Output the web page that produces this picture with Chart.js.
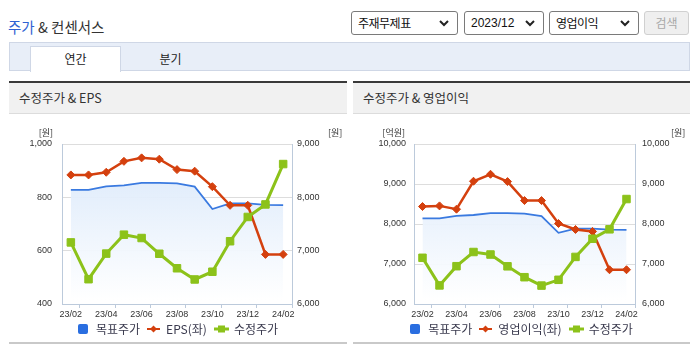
<!DOCTYPE html>
<html>
<head>
<meta charset="utf-8">
<script src="https://cdn.jsdelivr.net/npm/chart.js@4.4.1/dist/chart.umd.min.js"></script>
<style>
    body { margin: 0; width: 695px; height: 349px; background: #fff; font-family: 'Noto Sans CJK KR', sans-serif; position: relative; overflow: hidden; color: #333; }
    .abs { position: absolute; }
    .title { left: 8px; top: 17px; font-size: 14.5px; line-height: 20px; color: #333; }
    .title .blue { color: #2f62d2; }
    .sel { top: 11px; height: 22px; border: 1px solid #7a7a7a; border-radius: 3px; font-size: 12px; line-height: 22px; padding-left: 6px; box-sizing: content-box; color: #111; }
    .sel svg { position: absolute; top: 8px; }
    .btn { left: 644px; top: 11px; width: 43px; height: 22px; border: 1px solid #d0d0d0; border-radius: 3px; background: #efefef; color: #a8a8a8; font-size: 12px; line-height: 22px; text-align: center; }
    .tabbar { left: 9px; top: 42px; width: 679px; height: 27px; background: #e8eef8; border: 1px solid #cfd7e6; }
    .tab { left: 30px; top: 46px; width: 89px; height: 25px; background: #fff; border: 1px solid #cfd7e6; border-bottom: none; font-size: 12px; line-height: 24px; text-align: center; color: #222; }
    .tab2 { left: 148px; top: 47px; width: 45px; font-size: 12px; line-height: 24px; text-align: center; color: #222; }
    .panel-head { top: 81px; height: 30px; border-top: 2px solid #3a3a3a; border-bottom: 1px solid #dcdcdc; background: #f1f1f1; font-size: 12.5px; line-height: 30px; padding-left: 10px; box-sizing: content-box; color: #333; }
    .panel-foot { top: 342px; height: 2px; background: #c9c9c9; }
    .legend { top: 321px; height: 16px; font-size: 12px; line-height: 16px; color: #3a3a4e; white-space: nowrap; display: flex; align-items: center; justify-content: center; }
    .legend span { display: inline-flex; align-items: center; }
    .lg-box { width: 10px; height: 10px; background: #2a6ee0; border-radius: 2px; margin-right: 8px; }
    .lg-item { margin-right: 7px; }
    canvas { position: absolute; }
</style>
</head>
<body>
<div class="abs title"><span class="blue">주가</span> &amp; 컨센서스</div>

<div class="abs sel" style="left:351px;width:99px;letter-spacing:-0.5px;">주재무제표<svg style="left:87px" width="10" height="7"><polyline points="1,1 5,5 9,1" fill="none" stroke="#222" stroke-width="2"/></svg></div>
<div class="abs sel" style="left:464px;width:72px;font-family:'Liberation Sans',sans-serif;">2023/12<svg style="left:60px" width="10" height="7"><polyline points="1,1 5,5 9,1" fill="none" stroke="#222" stroke-width="2"/></svg></div>
<div class="abs sel" style="left:549px;width:82px;letter-spacing:-0.5px;">영업이익<svg style="left:70px" width="10" height="7"><polyline points="1,1 5,5 9,1" fill="none" stroke="#222" stroke-width="2"/></svg></div>
<div class="abs btn">검색</div>

<div class="abs tabbar"></div>
<div class="abs tab">연간</div>
<div class="abs tab2">분기</div>

<div class="abs panel-head" style="left:9px;width:328px;">수정주가 &amp; EPS</div>
<div class="abs panel-head" style="left:353px;width:327px;">수정주가 &amp; 영업이익</div>

<canvas id="eps-chart" width="338" height="208" style="left:9px;top:115px;"></canvas>
<canvas id="op-chart" width="337" height="208" style="left:353px;top:115px;"></canvas>

<div class="abs legend" style="left:9px;width:338px;">
    <span class="lg-item"><span class="lg-box"></span>목표주가</span>
    <span class="lg-item"><svg width="13" height="10" style="margin-right:6px"><line x1="0" y1="5" x2="13" y2="5" stroke="#d4400e" stroke-width="2"/><polygon points="6.5,1.5 10,5 6.5,8.5 3,5" fill="#d4400e"/></svg>EPS(좌)</span>
    <span><svg width="15" height="10" style="margin-right:5px"><line x1="0" y1="5" x2="15" y2="5" stroke="#8cc21a" stroke-width="3"/><rect x="4" y="1.5" width="7" height="7" fill="#8cc21a"/></svg>수정주가</span>
</div>
<div class="abs legend" style="left:353px;width:337px;">
    <span class="lg-item"><span class="lg-box"></span>목표주가</span>
    <span class="lg-item"><svg width="13" height="10" style="margin-right:6px"><line x1="0" y1="5" x2="13" y2="5" stroke="#d4400e" stroke-width="2"/><polygon points="6.5,1.5 10,5 6.5,8.5 3,5" fill="#d4400e"/></svg>영업이익(좌)</span>
    <span><svg width="15" height="10" style="margin-right:5px"><line x1="0" y1="5" x2="15" y2="5" stroke="#8cc21a" stroke-width="3"/><rect x="4" y="1.5" width="7" height="7" fill="#8cc21a"/></svg>수정주가</span>
</div>

<div class="abs panel-foot" style="left:9px;width:338px;"></div>
<div class="abs panel-foot" style="left:353px;width:337px;"></div>

<script>
const months = ['23/02', '23/03', '23/04', '23/05', '23/06', '23/07', '23/08', '23/09', '23/10', '23/11', '23/12', '24/01', '24/02']
const targetPrice = [8140, 8140, 8205, 8225, 8270, 8270, 8260, 8200, 7780, 7885, 7885, 7860, 7853]
const eps = [884, 884, 894, 935, 948, 943, 904, 898, 840, 770, 770, 586, 586]
const opIncome = [8437, 8453, 8370, 9069, 9243, 9060, 8586, 8586, 8012, 7863, 7813, 6857, 6857]
const adjPrice = [7155, 6465, 6945, 7300, 7237, 6942, 6670, 6460, 6605, 7177, 7632, 7867, 8624]

const epsTicks = [400, 600, 800, 1000]
const epsPriceTicks = [6000, 7000, 8000, 9000]
const opTicks = [6000, 7000, 8000, 9000, 10000]
const opPriceTicks = [6000, 7000, 8000, 9000, 10000]

const axisColor = '#bccadb'
const gridColor = '#dddddd'
const tickFont = { family: "'Liberation Sans Narrow', 'Liberation Sans', sans-serif", size: 9 }

const unitPlugin = {
    id: 'units',
    afterDraw(chart, args, opts) {
        const { ctx, chartArea } = chart
        ctx.save()
        ctx.font = "9px 'Noto Sans CJK KR', sans-serif"
        ctx.fillStyle = '#333'
        ctx.textBaseline = 'middle'
        ctx.textAlign = 'right'
        ctx.fillText(opts.left, chartArea.left - 9, chartArea.top - 11)
        ctx.textAlign = 'left'
        ctx.fillText(opts.right, chartArea.right + 36, chartArea.top - 11)
        ctx.restore()
    }
}

function fillGradient(context) {
    const { ctx, chartArea } = context.chart
    if (!chartArea) return 'rgba(220,234,250,0.8)'
    const g = ctx.createLinearGradient(0, chartArea.top, 0, chartArea.bottom - 4)
    g.addColorStop(0, 'rgba(214,230,250,0.95)')
    g.addColorStop(1, 'rgba(255,255,255,0.95)')
    return g
}

function makeChart(id, leftData, leftName, leftTicks, rightTicks, leftWidth, rightWidth, leftPad, rightPad, leftUnit) {
    const ctx = document.getElementById(id).getContext('2d')
    return new Chart(ctx, {
        type: 'line',
        data: {
            labels: months,
            datasets: [{
                label: '목표주가',
                data: targetPrice,
                yAxisID: 'y1',
                borderColor: '#3a7ae0',
                borderWidth: 1.8,
                pointRadius: 0,
                fill: 'start',
                backgroundColor: fillGradient,
                order: 3
            }, {
                label: leftName,
                data: leftData,
                yAxisID: 'y',
                borderColor: '#d4400e',
                backgroundColor: '#d4400e',
                borderWidth: 2.5,
                pointStyle: 'rectRot',
                pointRadius: 4,
                pointBorderWidth: 1,
                order: 2
            }, {
                label: '수정주가',
                data: adjPrice,
                yAxisID: 'y1',
                borderColor: '#8cc21a',
                backgroundColor: '#8cc21a',
                borderWidth: 3,
                pointStyle: 'rect',
                pointRadius: 5.3,
                pointBorderWidth: 1,
                order: 1
            }]
        },
        options: {
            responsive: false,
            animation: false,
            layout: { padding: { top: 29, left: 0, right: 0, bottom: 0 } },
            plugins: {
                legend: { display: false },
                tooltip: { enabled: false },
                units: { left: leftUnit, right: '[원]' }
            },
            scales: {
                x: {
                    offset: true,
                    grid: {
                        offset: true,
                        drawOnChartArea: false,
                        tickLength: 4,
                        color: c => (c.index === undefined || c.index % 2 === 1) ? axisColor : 'rgba(0,0,0,0)'
                    },
                    border: { color: axisColor },
                    ticks: {
                        autoSkip: false,
                        maxRotation: 0,
                        padding: 1,
                        color: '#333',
                        font: tickFont,
                        callback: (v, i) => i % 2 === 0 ? months[i] : ''
                    },
                    afterFit: s => { s.height = 19 }
                },
                y: {
                    position: 'left',
                    min: leftTicks[0],
                    max: leftTicks[leftTicks.length - 1],
                    afterBuildTicks: s => { s.ticks = leftTicks.map(v => ({ value: v })) },
                    grid: { color: gridColor, drawTicks: false },
                    border: { color: axisColor },
                    ticks: { padding: leftPad, color: '#333', font: tickFont, callback: v => v.toLocaleString('en-US') },
                    afterFit: s => { s.width = leftWidth }
                },
                y1: {
                    position: 'right',
                    min: rightTicks[0],
                    max: rightTicks[rightTicks.length - 1],
                    afterBuildTicks: s => { s.ticks = rightTicks.map(v => ({ value: v })) },
                    grid: { drawOnChartArea: false, drawTicks: false },
                    border: { color: axisColor },
                    ticks: { padding: rightPad, color: '#333', font: tickFont, callback: v => v.toLocaleString('en-US') },
                    afterFit: s => { s.width = rightWidth }
                }
            }
        },
        plugins: [unitPlugin]
    })
}

makeChart('eps-chart', eps, 'EPS(좌)', epsTicks, epsPriceTicks, 53, 55, 10, 5, '[원]')
makeChart('op-chart', opIncome, '영업이익(좌)', opTicks, opPriceTicks, 61, 55, 8, 7, '[억원]')
</script>
</body>
</html>
